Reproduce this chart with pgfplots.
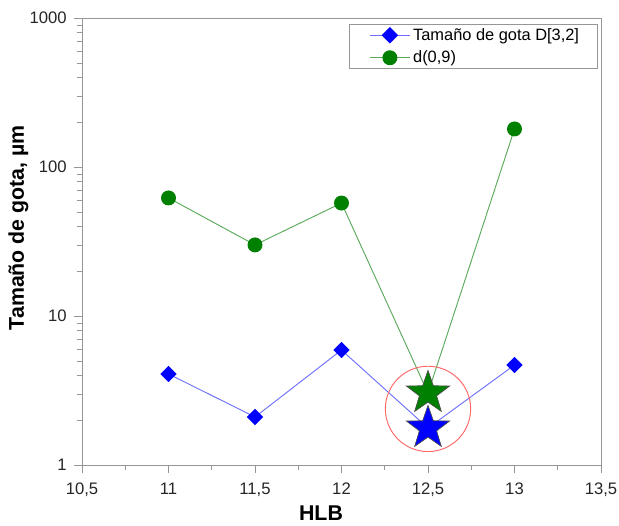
\documentclass[border=0pt]{standalone}
\usepackage{fontspec}
\setmainfont{Liberation Sans}
\usepackage{pgfplots}
\pgfplotsset{compat=1.18}

% filled five-pointed star for the highlighted HLB 12.5 points
\pgfdeclareplotmark{bigstar}{%
  \pgfpathmoveto{\pgfpointpolar{90}{\pgfplotmarksize}}%
  \pgfpathlineto{\pgfpointpolar{126}{0.40\pgfplotmarksize}}%
  \pgfpathlineto{\pgfpointpolar{162}{\pgfplotmarksize}}%
  \pgfpathlineto{\pgfpointpolar{198}{0.40\pgfplotmarksize}}%
  \pgfpathlineto{\pgfpointpolar{234}{\pgfplotmarksize}}%
  \pgfpathlineto{\pgfpointpolar{270}{0.40\pgfplotmarksize}}%
  \pgfpathlineto{\pgfpointpolar{306}{\pgfplotmarksize}}%
  \pgfpathlineto{\pgfpointpolar{342}{0.40\pgfplotmarksize}}%
  \pgfpathlineto{\pgfpointpolar{18}{\pgfplotmarksize}}%
  \pgfpathlineto{\pgfpointpolar{54}{0.40\pgfplotmarksize}}%
  \pgfpathclose
  \pgfusepathqfillstroke
}

\definecolor{dgreen}{RGB}{0,128,0}
\definecolor{lblue}{RGB}{110,110,255}
\definecolor{lgreen}{RGB}{90,170,90}
\definecolor{axgray}{RGB}{150,150,150}

\begin{document}
\begin{tikzpicture}
\begin{axis}[
    scale only axis,
    width=389.25pt, height=335.25pt,
    ymode=log,
    xmin=10.5, xmax=13.5,
    ymin=1, ymax=1000,
    xtick={10.5,11,11.5,12,12.5,13,13.5},
    xticklabels={{10,5},{11},{11,5},{12},{12,5},{13},{13,5}},
    minor x tick num=1,
    ytick={1,10,100,1000},
    yticklabels={1,10,100,1000},
    tick align=outside,
    xtick pos=bottom, ytick pos=left,
    axis line style={axgray},
    every tick/.style={axgray},
    major tick length=6pt, minor tick length=3.75pt,
    tick label style={font=\fontsize{12.5}{14}\selectfont, text=black!85},
    xticklabel style={yshift=-4pt},
    yticklabel style={xshift=-2pt},
    /pgf/number format/assume math mode=true,
    xlabel={\textbf{HLB}},
    ylabel={\textbf{Tamaño de gota, µm}},
    label style={font=\fontsize{16}{18}\selectfont},
    xlabel style={at={(axis description cs:0.4605,-0.108)}, anchor=center},
    ylabel style={at={(axis description cs:-0.1223,0.531)}, anchor=center},
    legend style={at={(rel axis cs:1,1)}, anchor=north east,
        xshift=-2.25pt, yshift=-4.5pt, draw=axgray,
        font=\fontsize{12.3}{14}\selectfont, row sep=2.5pt,
        inner xsep=12pt, inner ysep=1pt},
    legend cell align=left,
    legend image code/.code={%
        \path (0cm,0cm);
        \draw[#1,mark repeat=2,mark phase=2]
        plot coordinates {(0.12cm,0cm)(0.65cm,0cm)(1.18cm,0cm)};},
]
\addplot[lblue, line width=0.7pt, mark=square*, mark size=4pt,
    mark options={blue, draw=blue, rotate=45}] coordinates {
    (11,4.08) (11.5,2.10) (12,5.91) (12.5,1.77) (13,4.69)
};
\addlegendentry{Tamaño de gota D[3,2]}
\addplot[lgreen, line width=0.7pt, mark=*, mark size=5.25pt,
    mark options={dgreen, draw=dgreen}] coordinates {
    (11,62) (11.5,30) (12,57.3) (12.5,3.04) (13,180)
};
\addlegendentry{d(0,9)}
% highlight circle
\addplot[forget plot, only marks, mark=o, mark size=32pt,
    mark options={red!60, line width=0.7pt}] coordinates {(12.5,2.38)};
% stars
\addplot[forget plot, only marks, mark=bigstar, mark size=17pt,
    mark options={fill=dgreen, draw=black!70, line width=0.5pt}] coordinates {(12.5,3.04)};
\addplot[forget plot, only marks, mark=bigstar, mark size=17pt,
    mark options={fill=blue, draw=black!70, line width=0.5pt}] coordinates {(12.5,1.77)};
\end{axis}
% fix the page to the reference margins round the axis box
\pgfresetboundingbox
\path ([shift={(-61.5pt,-45pt)}]current axis.south west)
    rectangle ([shift={(13.5pt,13.5pt)}]current axis.north east);
\end{tikzpicture}
\end{document}
